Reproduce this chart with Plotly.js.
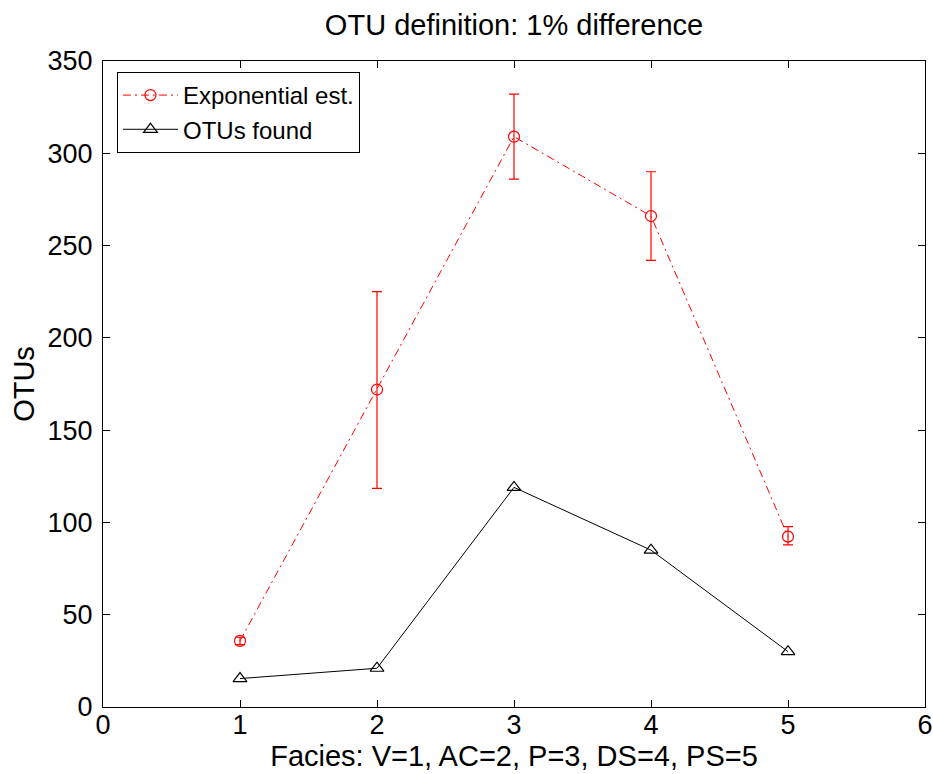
<!DOCTYPE html>
<html>
<head>
<meta charset="utf-8">
<script src="https://cdn.plot.ly/plotly-3.0.1.min.js"></script>
<style>html,body{margin:0;padding:0;background:#fff;}#chart{width:933px;height:774px;}</style>
</head>
<body>
<div id="chart"></div>
<script>
// Data
const facies = [1, 2, 3, 4, 5];
const expEst = [35.8, 172, 309, 266, 92.3];
const expErrPlus = [2, 53, 23, 24, 5.4];
const expErrMinus = [2, 53.5, 23, 24, 4.5];
const otusFound = [15.4, 21, 119, 85, 30];
const xTicks = [0, 1, 2, 3, 4, 5, 6];
const yTicks = [0, 50, 100, 150, 200, 250, 300, 350];

const FONT = 'Liberation Sans, Arial, Helvetica, sans-serif';

const traces = [
  {
    x: facies, y: expEst, name: 'Exponential est.', type: 'scatter', mode: 'lines+markers',
    line: {color: '#ff0000', width: 1, dash: '8px,4px,2px,4px'},
    marker: {symbol: 'circle-open', size: 11, color: '#ff0000', line: {width: 1.2}},
    error_y: {type: 'data', symmetric: false, array: expErrPlus, arrayminus: expErrMinus,
              color: '#ff0000', thickness: 1.2, width: 5}
  },
  {
    x: facies, y: otusFound, name: 'OTUs found', type: 'scatter', mode: 'lines+markers',
    line: {color: '#000000', width: 1},
    marker: {symbol: 'triangle-up-open', size: 12, color: '#000000', line: {width: 1.2}}
  }
];

const axisCommon = {
  showline: true, linecolor: '#000', linewidth: 1, mirror: 'allticks',
  ticks: 'inside', ticklen: 7, tickcolor: '#000', tickwidth: 1,
  showgrid: false, zeroline: false,
  tickfont: {family: FONT, size: 27, color: '#000'}
};

const layout = {
  width: 933, height: 774,
  margin: {l: 103, r: 8, t: 61, b: 67},
  paper_bgcolor: '#fff', plot_bgcolor: '#fff',
  showlegend: true,
  title: {text: 'OTU definition: 1% difference', font: {family: FONT, size: 29, color: '#000'},
          x: 0.5, xref: 'paper', y: 0.968, yref: 'container', yanchor: 'middle'},
  xaxis: Object.assign({}, axisCommon, {
    range: [0, 6], tickvals: xTicks, ticktext: xTicks.map(String), ticklabelstandoff: -6,
    title: {text: 'Facies: V=1, AC=2, P=3, DS=4, PS=5', font: {family: FONT, size: 29, color: '#000'}, standoff: 0}
  }),
  yaxis: Object.assign({}, axisCommon, {
    range: [0, 350], tickvals: yTicks, ticktext: yTicks.map(String), ticklabelstandoff: 4,
    title: {text: 'OTUs', font: {family: FONT, size: 29, color: '#000'}, standoff: 4}
  }),
  legend: {
    x: 0.017, y: 0.983, xanchor: 'left', yanchor: 'top',
    bordercolor: '#000', borderwidth: 1, bgcolor: '#fff',
    font: {family: FONT, size: 24, color: '#000'},
    tracegroupgap: 0, itemwidth: 55
  }
};

Plotly.newPlot('chart', traces, layout, {displayModeBar: false, staticPlot: true});
</script>
</body>
</html>
